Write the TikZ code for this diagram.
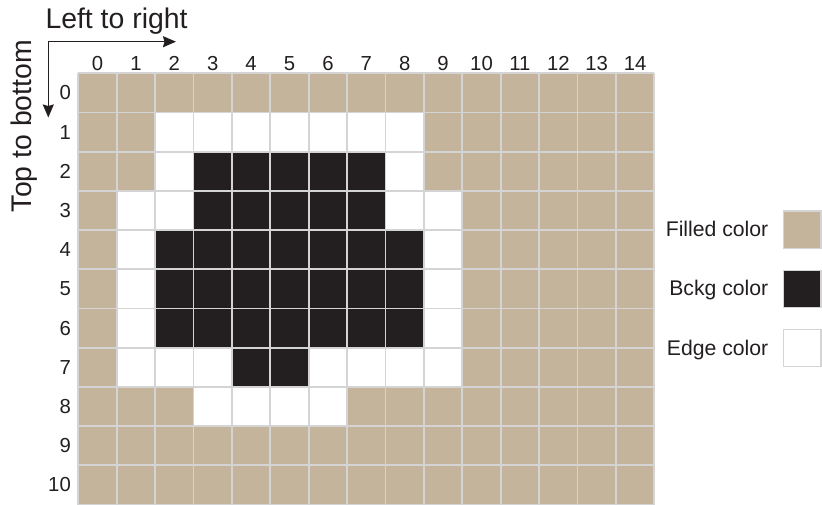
\documentclass[tikz,border=0pt]{standalone}
\usepackage{fontspec}
\setmainfont{Liberation Sans}
\usetikzlibrary{arrows.meta}
\definecolor{tancell}{HTML}{C4B49C}
\definecolor{inkc}{HTML}{231F20}
\definecolor{gridgray}{HTML}{D4D4D4}
\begin{document}
\begin{tikzpicture}[x=1pt,y=-1pt,
  gridline/.style={draw=gridgray, line width=1.8pt},
  numlabel/.style={text=inkc, inner sep=0pt, font=\fontsize{20.3}{24}\selectfont},
  titletext/.style={text=inkc, inner sep=0pt, font=\fontsize{28.4}{34}\selectfont},
  legendtext/.style={text=inkc, inner sep=0pt, font=\fontsize{21.2}{25}\selectfont},
  swatch/.style={draw=gridgray, line width=1.3pt, minimum size=37.3pt, inner sep=0pt},
  dirarrow/.style={draw=inkc, line width=1.5pt, line join=miter,
    {Stealth[length=13pt,width=11pt,inset=1.5pt]}-{Stealth[length=13pt,width=11pt,inset=1.5pt]}}
]
\useasboundingbox (0,0) rectangle (822,504);
\def\cw{38.4}
\def\ch{39.2}
\def\gx{78.3}
\def\gy{73.3}
% base fill
\fill[tancell] (\gx,\gy) rectangle ++({15*\cw},{11*\ch});
% edge (white) cells
\foreach \r/\cols in {1/{2,3,4,5,6,7,8},2/{2,8},3/{1,2,8,9},4/{1,9},5/{1,9},6/{1,9},7/{1,2,3,6,7,8,9},8/{3,4,5,6}}{
  \foreach \c in \cols {
    \fill[white] ({\gx+\c*\cw},{\gy+\r*\ch}) rectangle ++(\cw,\ch);
  }
}
% background (black) cells
\foreach \r/\cols in {2/{3,4,5,6,7},3/{3,4,5,6,7},4/{2,3,4,5,6,7,8},5/{2,3,4,5,6,7,8},6/{2,3,4,5,6,7,8},7/{4,5}}{
  \foreach \c in \cols {
    \fill[inkc] ({\gx+\c*\cw},{\gy+\r*\ch}) rectangle ++(\cw,\ch);
  }
}
% grid lines
\foreach \i in {0,...,15}{
  \draw[gridline] ({\gx+\i*\cw},\gy) -- ++(0,{11*\ch});
}
\foreach \j in {0,...,11}{
  \draw[gridline] (\gx,{\gy+\j*\ch}) -- ++({15*\cw},0);
}
% column and row numbers
\foreach \c in {0,...,14}{
  \node[numlabel, anchor=base] (col\c) at ({\gx+(\c+0.5)*\cw},70) {\c};
}
\foreach \r in {0,...,10}{
  \node[numlabel, anchor=base east] (row\r) at (71,{\gy+(\r+0.5)*\ch+7}) {\r};
}
% direction arrows
\coordinate (origin) at (48.3,41.7);
\coordinate (ltrtip) at (176,41.7);
\coordinate (ttbtip) at (48.3,117.5);
\draw[dirarrow] (ttbtip) -- (origin) -- (ltrtip);
\node[titletext, anchor=base west] (lefttoright) at (45.3,28.3) {Left to right};
\node[titletext, rotate=90, anchor=base] (toptobottom) at (31.7,126) {Top to bottom};
% legend
\node[swatch, fill=tancell] (swfill) at (802.3,229.7) {};
\node[swatch, fill=inkc] (swbckg) at (802.3,288.8) {};
\node[swatch, fill=white] (swedge) at (802.3,348) {};
\node[legendtext, anchor=base east] (lfill) at (768.5,236.5) {Filled color};
\node[legendtext, anchor=base east] (lbckg) at (768.5,295.8) {Bckg color};
\node[legendtext, anchor=base east] (ledge) at (768.5,355) {Edge color};
\end{tikzpicture}
\end{document}
